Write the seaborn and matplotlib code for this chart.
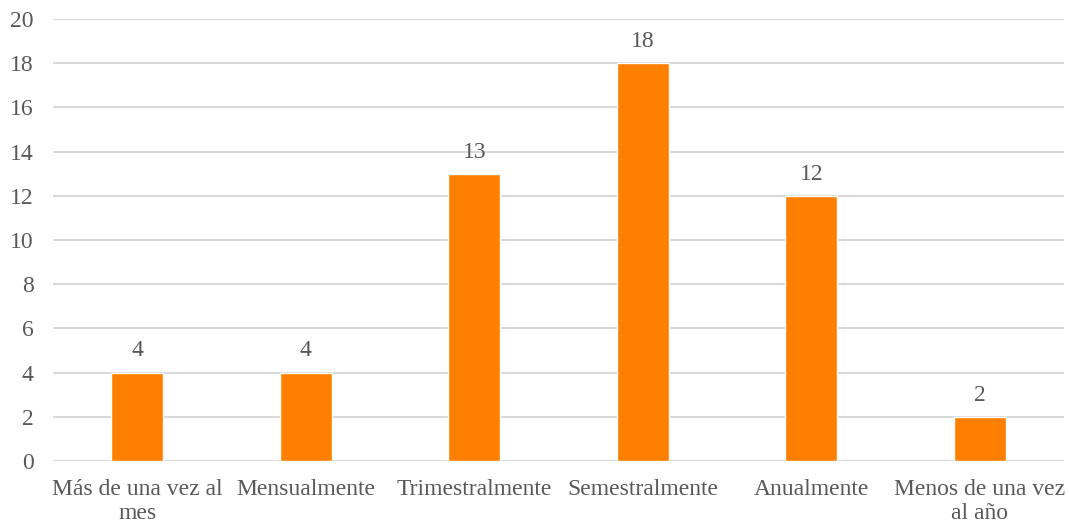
import matplotlib
matplotlib.use("Agg")
import matplotlib.pyplot as plt
import seaborn as sns
import pandas as pd

# Frequency categories and respondent counts
categories = ["Más de una vez al\nmes", "Mensualmente", "Trimestralmente",
              "Semestralmente", "Anualmente", "Menos de una vez\nal año"]
counts = [4, 4, 13, 18, 12, 2]
y_ticks = list(range(0, 21, 2))

sns.set_theme(style="white")
plt.rcParams["font.family"] = ["Liberation Serif", "DejaVu Serif"]

df = pd.DataFrame({"categoria": categories, "n": counts})

fig = plt.figure(figsize=(10.69, 5.25), dpi=100)
ax = fig.add_axes([0.0496, 0.1219, 0.9457, 0.8419])

sns.barplot(data=df, x="categoria", y="n", color="#FF7F00", width=0.31,
            saturation=1, ax=ax, zorder=3)

text_color = "#595959"
fs = 17
ax.set_ylim(0, 20)
ax.set_yticks(y_ticks)
ax.set_xlim(-0.5, len(categories) - 0.5)
ax.grid(axis="y", color="#D9D9D9", linewidth=1.5, zorder=0)
ax.set_axisbelow(True)
for s in ax.spines.values():
    s.set_visible(False)
ax.set_xlabel("")
ax.set_ylabel("")
ax.tick_params(axis="both", length=0, labelsize=fs, colors=text_color)
ax.tick_params(axis="y", pad=14)
ax.tick_params(axis="x", pad=13)
for lbl in ax.get_xticklabels():
    lbl.set_linespacing(1.2)

for p, v in zip(ax.patches, counts):
    ax.annotate(f"{v}", (p.get_x() + p.get_width() / 2, v),
                xytext=(0, 8), textcoords="offset points",
                ha="center", va="bottom", fontsize=fs, color=text_color)

fig.savefig("out.png", dpi=100)
